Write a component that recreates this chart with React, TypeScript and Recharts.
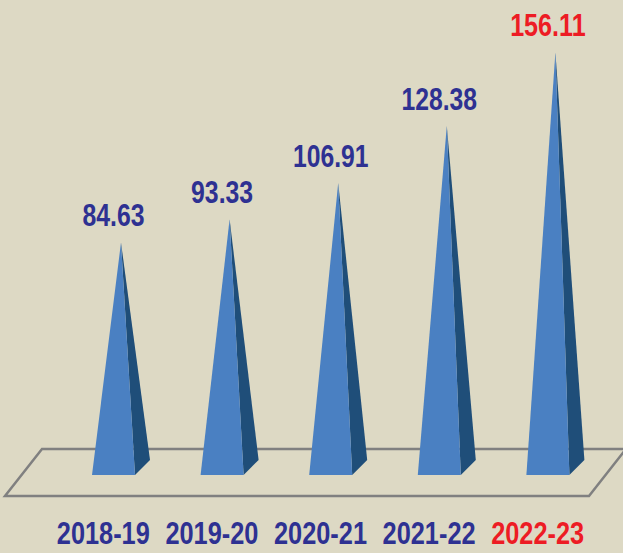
import { BarChart, Bar, XAxis, YAxis, LabelList, Customized } from "recharts";

const years = ["2018-19", "2019-20", "2020-21", "2021-22", "2022-23"];
const values = [84.63, 93.33, 106.91, 128.38, 156.11];
const labelColors = ["#2e3192", "#2e3192", "#2e3192", "#2e3192", "#ed1c24"];

const data = years.map((year, i) => ({ year, value: values[i] }));

const FONT = '"Liberation Sans", Arial, sans-serif';

// squeeze text to look like a condensed face
const textWidth = (s: string) =>
  s.split("").reduce((w, c) => w + (c === "." ? 8 : c === "-" ? 12 : 13.5), 0);

// 3D pyramid: front face + darker right side
function Pyramid(props: any) {
  const { x, y, width, height } = props;
  const cx = x + width / 2;
  const base = y + height;
  const half = 21.5;
  const depth = 7.5;
  const apexX = cx + depth;
  const fy = base + depth;
  const front = `M${cx - half},${fy} L${cx + half},${fy} L${apexX},${y} Z`;
  const side = `M${cx + half},${fy} L${cx + half + 2 * depth},${base - depth} L${apexX},${y} Z`;
  return (
    <g>
      <path d={side} fill="#1f4e79" />
      <path d={front} fill="#4a80c2" />
    </g>
  );
}

function Floor() {
  // flat parallelogram under the pyramids
  return (
    <polygon
      points="42,449 626,449 589,496 5,496"
      fill="none"
      stroke="#808080"
      strokeWidth={2.5}
    />
  );
}

function YearTick({ x, y, payload, index }: any) {
  const s = String(payload.value);
  return (
    <text
      x={x - 10}
      y={y + 68}
      textAnchor="middle"
      fontFamily={FONT}
      fontWeight="bold"
      fontSize={31}
      fill={labelColors[index]}
      textLength={textWidth(s)}
      lengthAdjust="spacingAndGlyphs"
    >
      {s}
    </text>
  );
}

function ValueLabel({ x, y, width, index, value }: any) {
  const s = value.toFixed(2);
  return (
    <text
      x={x + width / 2}
      y={y - 16}
      textAnchor="middle"
      fontFamily={FONT}
      fontWeight="bold"
      fontSize={32}
      fill={labelColors[index]}
      textLength={textWidth(s)}
      lengthAdjust="spacingAndGlyphs"
    >
      {s}
    </text>
  );
}

export default function App() {
  return (
    <div
      style={{
        position: "absolute",
        left: 0,
        top: 0,
        width: 623,
        height: 553,
        background: "#ddd9c4",
      }}
    >
      <BarChart
        width={623}
        height={553}
        data={data}
        margin={{ top: 2, right: 21, bottom: 0, left: 59 }}
        barSize={43}
      >
        <Customized component={Floor} />
        <XAxis
          dataKey="year"
          axisLine={false}
          tickLine={false}
          height={85.5}
          interval={0}
          tick={<YearTick />}
        />
        <YAxis hide domain={[0, 175]} />
        <Bar dataKey="value" shape={<Pyramid />} isAnimationActive={false}>
          <LabelList dataKey="value" content={<ValueLabel />} />
        </Bar>
      </BarChart>
    </div>
  );
}
